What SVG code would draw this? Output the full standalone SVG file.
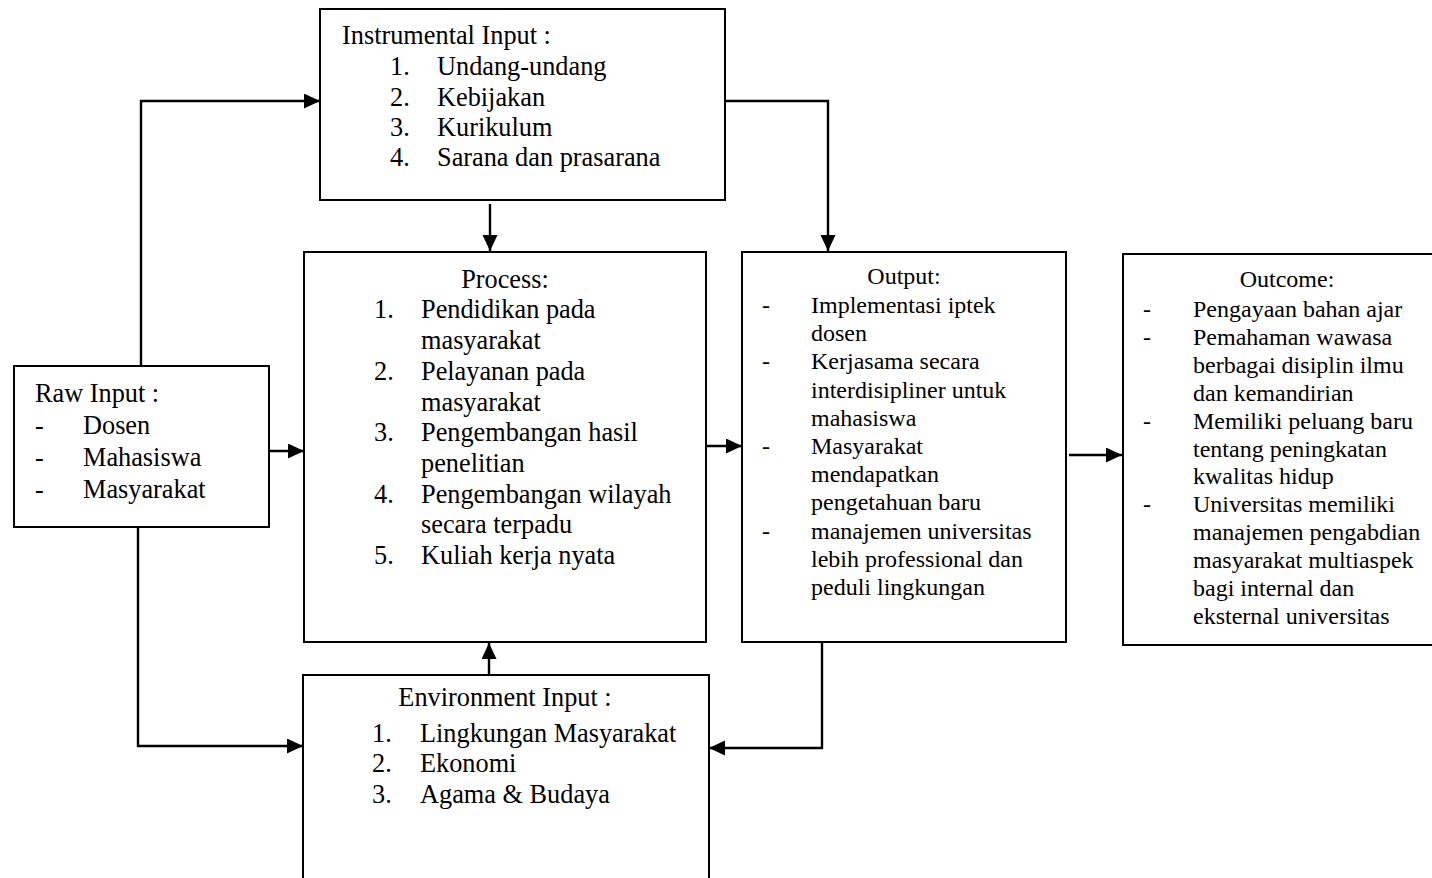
<svg xmlns="http://www.w3.org/2000/svg" width="1432" height="878" viewBox="0 0 1432 878">
  <defs>
    <style>
      .box { fill: #ffffff; stroke: #000000; stroke-width: 2; }
      .link { fill: none; stroke: #000000; stroke-width: 2.4; }
      .t { font-family: "Liberation Serif", "Times New Roman", serif; fill: #000000; }
      .lg { font-size: 26.3px; }
      .sm { font-size: 24px; }
      .mid { text-anchor: middle; }
    </style>
    <marker id="arrow" markerUnits="userSpaceOnUse" markerWidth="17" markerHeight="16" refX="16" refY="7.5" orient="auto">
      <path d="M0,0 L16,7.5 L0,15 Z" fill="#000000"/>
    </marker>
  </defs>
  <rect width="1432" height="878" fill="#ffffff"/>

  <!-- connectors -->
  <g id="connectors">
    <polyline class="link" points="141,366 141,101 320,101" marker-end="url(#arrow)"/>
    <polyline class="link" points="138,527 138,746 303,746" marker-end="url(#arrow)"/>
    <line class="link" x1="269" y1="451" x2="304" y2="451" marker-end="url(#arrow)"/>
    <line class="link" x1="490" y1="204" x2="490" y2="251" marker-end="url(#arrow)"/>
    <polyline class="link" points="725,101 828,101 828,251" marker-end="url(#arrow)"/>
    <line class="link" x1="706" y1="446" x2="742" y2="446" marker-end="url(#arrow)"/>
    <line class="link" x1="1069" y1="455" x2="1122" y2="455" marker-end="url(#arrow)"/>
    <line class="link" x1="489" y1="675" x2="489" y2="643" marker-end="url(#arrow)"/>
    <polyline class="link" points="822,642 822,748 709,748" marker-end="url(#arrow)"/>
  </g>

  <!-- instrumental input -->
  <g id="instrumental-input">
    <rect class="box" x="320" y="9" width="405" height="191"/>
    <text class="t lg" x="342" y="44">Instrumental Input :</text>
    <text class="t lg" x="390" y="75">1.</text><text class="t lg" x="437" y="75">Undang-undang</text>
    <text class="t lg" x="390" y="106">2.</text><text class="t lg" x="437" y="106">Kebijakan</text>
    <text class="t lg" x="390" y="136">3.</text><text class="t lg" x="437" y="136">Kurikulum</text>
    <text class="t lg" x="390" y="166">4.</text><text class="t lg" x="437" y="166">Sarana dan prasarana</text>
  </g>

  <!-- raw input -->
  <g id="raw-input">
    <rect class="box" x="14" y="366" width="255" height="161"/>
    <text class="t lg" x="35" y="402">Raw Input :</text>
    <text class="t lg" x="35" y="434">-</text><text class="t lg" x="83" y="434">Dosen</text>
    <text class="t lg" x="35" y="466">-</text><text class="t lg" x="83" y="466">Mahasiswa</text>
    <text class="t lg" x="35" y="498">-</text><text class="t lg" x="83" y="498">Masyarakat</text>
  </g>

  <!-- process -->
  <g id="process">
    <rect class="box" x="304" y="252" width="402" height="390"/>
    <text class="t lg mid" x="505" y="288">Process:</text>
    <text class="t lg" x="374" y="318">1.</text><text class="t lg" x="421" y="318">Pendidikan pada</text>
    <text class="t lg" x="421" y="349">masyarakat</text>
    <text class="t lg" x="374" y="380">2.</text><text class="t lg" x="421" y="380">Pelayanan pada</text>
    <text class="t lg" x="421" y="411">masyarakat</text>
    <text class="t lg" x="374" y="441">3.</text><text class="t lg" x="421" y="441">Pengembangan hasil</text>
    <text class="t lg" x="421" y="472">penelitian</text>
    <text class="t lg" x="374" y="503">4.</text><text class="t lg" x="421" y="503">Pengembangan wilayah</text>
    <text class="t lg" x="421" y="533">secara terpadu</text>
    <text class="t lg" x="374" y="564">5.</text><text class="t lg" x="421" y="564">Kuliah kerja nyata</text>
  </g>

  <!-- output -->
  <g id="output">
    <rect class="box" x="742" y="252" width="324" height="390"/>
    <text class="t sm mid" x="904" y="284">Output:</text>
    <text class="t sm" x="762" y="313">-</text><text class="t sm" x="811" y="313">Implementasi iptek</text>
    <text class="t sm" x="811" y="341">dosen</text>
    <text class="t sm" x="762" y="369">-</text><text class="t sm" x="811" y="369">Kerjasama secara</text>
    <text class="t sm" x="811" y="398">interdisipliner untuk</text>
    <text class="t sm" x="811" y="426">mahasiswa</text>
    <text class="t sm" x="762" y="454">-</text><text class="t sm" x="811" y="454">Masyarakat</text>
    <text class="t sm" x="811" y="482">mendapatkan</text>
    <text class="t sm" x="811" y="510">pengetahuan baru</text>
    <text class="t sm" x="762" y="539">-</text><text class="t sm" x="811" y="539">manajemen universitas</text>
    <text class="t sm" x="811" y="567">lebih professional dan</text>
    <text class="t sm" x="811" y="595">peduli lingkungan</text>
  </g>

  <!-- outcome -->
  <g id="outcome">
    <rect class="box" x="1123" y="254" width="320" height="391"/>
    <text class="t sm mid" x="1287" y="287">Outcome:</text>
    <text class="t sm" x="1143" y="317">-</text><text class="t sm" x="1193" y="317">Pengayaan bahan ajar</text>
    <text class="t sm" x="1143" y="345">-</text><text class="t sm" x="1193" y="345">Pemahaman wawasa</text>
    <text class="t sm" x="1193" y="373">berbagai disiplin ilmu</text>
    <text class="t sm" x="1193" y="401">dan kemandirian</text>
    <text class="t sm" x="1143" y="429">-</text><text class="t sm" x="1193" y="429">Memiliki peluang baru</text>
    <text class="t sm" x="1193" y="457">tentang peningkatan</text>
    <text class="t sm" x="1193" y="484">kwalitas hidup</text>
    <text class="t sm" x="1143" y="512">-</text><text class="t sm" x="1193" y="512">Universitas memiliki</text>
    <text class="t sm" x="1193" y="540">manajemen pengabdian</text>
    <text class="t sm" x="1193" y="568">masyarakat multiaspek</text>
    <text class="t sm" x="1193" y="596">bagi internal dan</text>
    <text class="t sm" x="1193" y="624">eksternal universitas</text>
  </g>

  <!-- environment input -->
  <g id="environment-input">
    <rect class="box" x="303" y="675" width="406" height="220"/>
    <text class="t lg mid" x="505" y="706">Environment Input :</text>
    <text class="t lg" x="372" y="742">1.</text><text class="t lg" x="420" y="742">Lingkungan Masyarakat</text>
    <text class="t lg" x="372" y="772">2.</text><text class="t lg" x="420" y="772">Ekonomi</text>
    <text class="t lg" x="372" y="803">3.</text><text class="t lg" x="420" y="803">Agama &amp; Budaya</text>
  </g>
</svg>
